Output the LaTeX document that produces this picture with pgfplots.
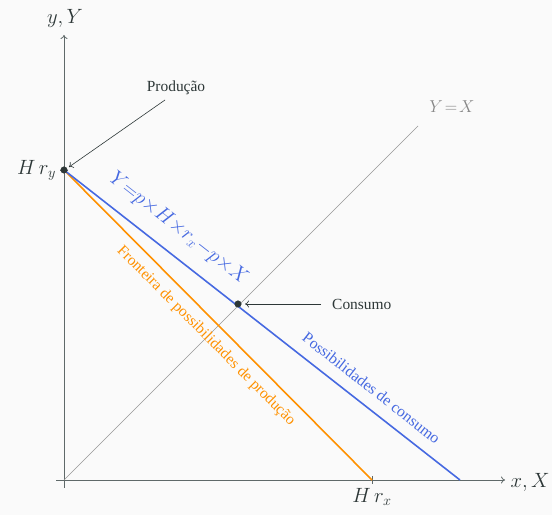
\documentclass[border=0pt]{standalone}
\usepackage{fontspec}
\setmainfont{Liberation Serif}
\usepackage{pgfplots}
\pgfplotsset{compat=1.18}
\usetikzlibrary{arrows.meta, backgrounds}
\definecolor{bg}{RGB}{250,250,250}
\definecolor{axisgray}{RGB}{95,105,105}
\definecolor{ink}{RGB}{45,55,55}
\definecolor{lineblue}{RGB}{70,105,225}
\definecolor{lineorange}{RGB}{255,145,0}
\definecolor{diaggray}{RGB}{150,150,150}
\definecolor{labgray}{RGB}{135,135,135}

\begin{document}
\begin{tikzpicture}[background rectangle/.style={fill=bg}, show background rectangle, inner frame sep=0pt]
\begin{axis}[
  x=1bp, y=1bp,
  xmin=-8, xmax=441, ymin=-8, ymax=445,
  axis lines=middle,
  axis line style={draw=axisgray, line width=0.8pt, -{To[length=4pt,width=7pt]}},
  xtick={308}, xticklabels={$H\,r_x$},
  ytick={310}, yticklabels={$H\,r_y$},
  tick align=center, major tick length=7bp,
  tick style={draw=axisgray, line width=0.8pt},
  tick label style={font=\fontsize{20}{22}\selectfont, text=ink},
  xticklabel style={yshift=-1bp},
  yticklabel style={xshift=-1bp},
  xlabel={$x,X$}, ylabel={$y,Y$},
  every axis x label/.style={at={(axis cs:466,-2)}, anchor=center, inner sep=0pt,
    font=\fontsize{20}{22}\selectfont, text=ink},
  every axis y label/.style={at={(axis cs:1,462)}, anchor=center, inner sep=0pt,
    font=\fontsize{20}{22}\selectfont, text=ink},
  clip=false,
]
  % invisible frame fixing the picture size
  \path (axis cs:-64,-35) rectangle (axis cs:488,480);

  % Y = X
  \addplot[diaggray, line width=0.7pt] coordinates {(0,0) (354,354)};
  \node[text=labgray, font=\fontsize{19}{21}\selectfont] at (axis cs:388,373)
    {$Y\mskip2mu{=}\mskip2mu X$};

  % production frontier
  \addplot[lineorange, line width=1.6pt] coordinates {(0,310) (308,0)};
  % consumption possibilities
  \addplot[lineblue, line width=1.6pt] coordinates {(0,310) (396,0)};

  % points
  \addplot[only marks, mark=*, mark size=3.3pt, color=ink] coordinates {(0,310) (174,176)};

  % rotated labels
  \node[rotate=-38.05, text=lineblue, font=\fontsize{20}{22}\selectfont]
    at (axis cs:114.5,251.5) {$Y{=}p{\times}H{\times}r_x{-}p{\times}X$};
  \node[rotate=-38.05, text=lineblue, font=\fontsize{15.8}{18}\selectfont]
    at (axis cs:307.5,92) {Possibilidades de consumo};
  \node[rotate=-45.2, text=lineorange, font=\fontsize{15.5}{18}\selectfont]
    at (axis cs:142,144) {Fronteira de possibilidades de produção};

  % annotations
  \node[text=ink, font=\fontsize{15.5}{18}\selectfont] at (axis cs:112,392) {Produção};
  \draw[ink, line width=0.6pt, -{To[length=4pt,width=7pt]}] (axis cs:101,380) -- (axis cs:5,313);
  \node[text=ink, font=\fontsize{15.5}{18}\selectfont, anchor=west, inner sep=0pt] at (axis cs:268,176) {Consumo};
  \draw[ink, line width=0.6pt, -{To[length=4pt,width=7pt]}] (axis cs:257,176) -- (axis cs:181,176);
\end{axis}
\end{tikzpicture}
\end{document}
